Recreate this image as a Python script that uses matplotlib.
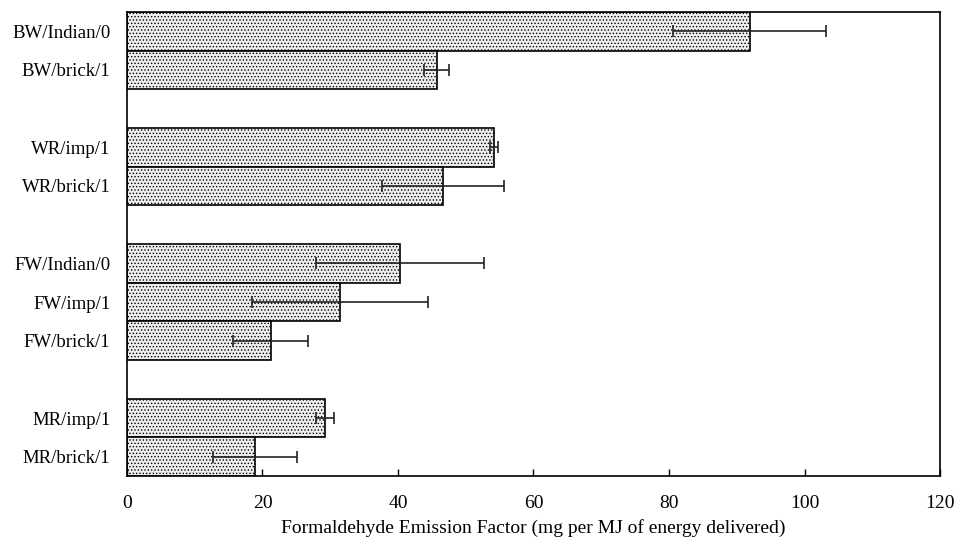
import matplotlib
matplotlib.use("Agg")
import matplotlib.pyplot as plt

plt.rcParams['font.family'] = ['Liberation Serif', 'DejaVu Serif']
plt.rcParams['hatch.color'] = '#b0b0b0'
plt.rcParams['hatch.linewidth'] = 0.6

# data (top to bottom)
labels = ["BW/Indian/0", "BW/brick/1", "WR/imp/1", "WR/brick/1",
          "FW/Indian/0", "FW/imp/1", "FW/brick/1", "MR/imp/1", "MR/brick/1"]
positions = [0, 1, 3, 4, 6, 7, 8, 10, 11]
values = [91.9, 45.7, 54.2, 46.6, 40.3, 31.5, 21.2, 29.2, 18.9]
errors = [11.3, 1.9, 0.6, 9.0, 12.4, 13.0, 5.5, 1.3, 6.2]
xticks = [0, 20, 40, 60, 80, 100, 120]

fig = plt.figure(figsize=(9.56, 5.4), dpi=100)
ax = fig.add_axes([0.1328, 0.1185, 0.8505, 0.8593])

ax.barh(positions, values, height=1.0, color='#eeeeee', edgecolor='black',
        linewidth=1.2, hatch='.....')
ax.errorbar(values, positions, xerr=errors, fmt='none', ecolor='#222222',
            elinewidth=1.2, capsize=4.5, capthick=1.2)

ax.set_xlim(0, 120)
ax.set_ylim(11.5, -0.5)
ax.set_xticks(xticks)
ax.set_yticks(positions)
ax.set_yticklabels(labels, fontsize=13.5)
ax.tick_params(axis='y', length=0, pad=12)
ax.tick_params(axis='x', direction='in', length=5, width=1, labelsize=14, pad=14)
ax.set_xlabel("Formaldehyde Emission Factor (mg per MJ of energy delivered)",
              fontsize=14, labelpad=5)
for s in ax.spines.values():
    s.set_linewidth(1.2)

plt.savefig('out.png', dpi=100)
plt.close()
